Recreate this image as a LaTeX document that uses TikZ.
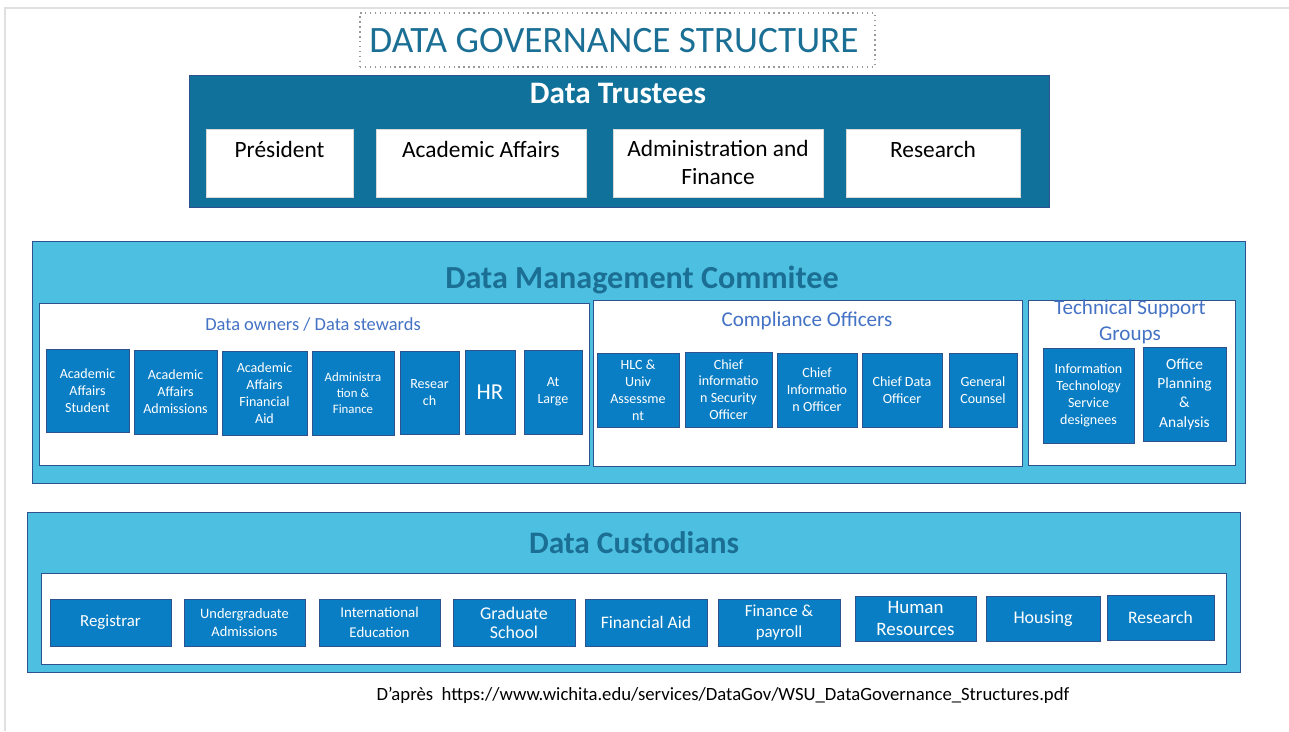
\documentclass[tikz,border=0pt]{standalone}
\usepackage{fontspec}
\setmainfont{Carlito}
\usepackage{xcolor}
\usepackage{tikz}
\usetikzlibrary{positioning, shapes}

\definecolor{trusteeblue}{HTML}{10719A}
\definecolor{layerblue}{HTML}{4DBFE0}
\definecolor{unitblue}{HTML}{0A7EC4}
\definecolor{unitedge}{HTML}{2F528F}
\definecolor{headteal}{HTML}{1B6F94}
\definecolor{labelblue}{HTML}{4472C4}

\begin{document}
\begin{tikzpicture}[
    x=0.02cm, y=-0.02cm,
    layer/.style={rectangle, draw=unitedge, fill=layerblue, inner sep=0pt},
    trustees/.style={rectangle, draw=unitedge, fill=trusteeblue, inner sep=0pt},
    panel/.style={rectangle, draw=unitedge, fill=white, inner sep=0pt},
    seat/.style={rectangle, fill=white, draw=white!85!black, inner sep=0pt, minimum height=1.36cm},
    seattext/.style={anchor=base, align=center, font=\fontsize{13.3}{16}\selectfont},
    unit/.style={rectangle, draw=unitedge, fill=unitblue, text=white, align=center, inner sep=1pt, font=\fontsize{8}{9.6}\selectfont},
    custodian/.style={unit, minimum width=2.42cm, minimum height=0.94cm, font=\fontsize{8.5}{10.5}\selectfont},
    heading/.style={anchor=base, font=\bfseries\fontsize{17.8}{20}\selectfont},
    grouplabel/.style={anchor=base, text=labelblue, align=center, font=\fontsize{12}{14.8}\selectfont}
]
\useasboundingbox (0,0) rectangle (1289,731);

% Slide frame
\draw[black!12, line width=1.2pt] (5,731) |- (1289,8);

% Title
\node[draw=black!40, dotted, thick, minimum width=10.3cm, minimum height=1.08cm] (titlebox) at (617.5,40) {};
\node[anchor=base, text=headteal, font=\fontsize{21.2}{24}\selectfont] (title) at (614,52) {DATA GOVERNANCE STRUCTURE};

% Data trustees
\node[trustees, minimum width=17.2cm, minimum height=2.64cm] (trust) at (619,141) {};
\node[heading, text=white] (trusthead) at (618,103) {Data Trustees};
\node[seat, minimum width=2.94cm] (pres) at (279.5,163) {};
\node[seat, minimum width=4.2cm] (acad) at (481,163) {};
\node[seat, minimum width=4.2cm] (admin) at (718,163) {};
\node[seat, minimum width=3.48cm] (resch) at (933,163) {};
\node[seattext] (prestext) at (279.5,157) {Président};
\node[seattext] (acadtext) at (481,157) {Academic Affairs};
\node[seattext, anchor=north] (admintext) at (718,134) {Administration and\\Finance};
\node[seattext] (reschtext) at (933,157) {Research};

% Data management committee
\node[layer, minimum width=24.26cm, minimum height=4.84cm] (dmc) at (638.5,362) {};
\node[heading, text=headteal, font=\bfseries\fontsize{18.3}{20}\selectfont] (dmchead) at (642,288) {Data Management Commitee};

% Data owners / stewards
\node[panel, minimum width=11cm, minimum height=3.24cm] (owners) at (314,384) {};
\node[grouplabel, font=\fontsize{10.5}{14}\selectfont] (ownerslabel) at (313,330) {Data owners / Data stewards};
\node[unit, minimum width=1.66cm, minimum height=1.66cm] (o1) at (87.5,390.5) {Academic\\Affairs\\Student};
\node[unit, minimum width=1.66cm, minimum height=1.68cm] (o2) at (175.5,392) {Academic\\Affairs\\Admissions};
\node[unit, minimum width=1.7cm, minimum height=1.68cm] (o3) at (264.5,393) {Academic\\Affairs\\Financial\\Aid};
\node[unit, minimum width=1.64cm, minimum height=1.68cm, font=\fontsize{7.3}{9.2}\selectfont] (o4) at (353,393) {Administra\\tion \&\\Finance};
\node[unit, minimum width=1.18cm, minimum height=1.66cm] (o5) at (429.5,392.5) {Resear\\ch};
\node[unit, minimum width=1cm, minimum height=1.68cm, font=\fontsize{13}{15}\selectfont] (o6) at (490,392) {HR};
\node[unit, minimum width=1.16cm, minimum height=1.68cm] (o7) at (553,392) {At\\Large};

% Compliance officers
\node[panel, minimum width=8.58cm, minimum height=3.32cm] (comply) at (807.5,383) {};
\node[grouplabel] (complylabel) at (807,326) {Compliance Officers};
\node[unit, minimum width=1.64cm, minimum height=1.48cm] (c1) at (638,390) {HLC \&\\Univ\\Assessme\\nt};
\node[unit, minimum width=1.74cm, minimum height=1.5cm] (c2) at (728.5,389.5) {Chief\\informatio\\n Security\\Officer};
\node[unit, minimum width=1.6cm, minimum height=1.48cm] (c3) at (817,390) {Chief\\Informatio\\n Officer};
\node[unit, minimum width=1.6cm, minimum height=1.48cm] (c4) at (902,390) {Chief Data\\Officer};
\node[unit, minimum width=1.36cm, minimum height=1.48cm] (c5) at (983,390) {General\\Counsel};

% Technical support groups
\node[panel, minimum width=4.14cm, minimum height=3.3cm] (tech) at (1131.5,382.5) {};
\node[grouplabel, anchor=north] (techlabel) at (1130,294) {Technical Support\\Groups};
\node[unit, minimum width=1.82cm, minimum height=1.9cm] (t1) at (1088.5,395.5) {Information\\Technology\\Service\\designees};
\node[unit, minimum width=1.66cm, minimum height=1.88cm, font=\fontsize{8.8}{11}\selectfont] (t2) at (1184.5,394) {Office\\Planning\\\&\\Analysis};

% Data custodians
\node[layer, minimum width=24.26cm, minimum height=3.2cm] (cust) at (633.5,592) {};
\node[heading, text=headteal] (custhead) at (634,553) {Data Custodians};
\node[panel, minimum width=23.7cm, minimum height=1.82cm] (custrow) at (633.5,618.5) {};
\node[custodian, font=\fontsize{9.6}{11}\selectfont] (k1) at (110.5,622.5) {Registrar};
\node[custodian, font=\fontsize{8.2}{10}\selectfont] (k2) at (244.5,622.5) {Undergraduate\\Admissions};
\node[custodian, font=\fontsize{8.5}{11}\selectfont] (k3) at (379.5,622.5) {International\\Education};
\node[custodian, minimum width=2.44cm, font=\fontsize{10.2}{11}\selectfont] (k4) at (514,622.5) {Graduate\\School};
\node[custodian, minimum width=2.44cm, font=\fontsize{10}{11}\selectfont] (k5) at (646,622.5) {Financial Aid};
\node[custodian, minimum width=2.44cm, font=\fontsize{9.6}{12}\selectfont] (k6) at (779,622.5) {Finance \&\\payroll};
\node[custodian, minimum height=0.9cm, font=\fontsize{10.8}{13}\selectfont] (k7) at (915.5,618.5) {Human\\Resources};
\node[custodian, minimum width=2.28cm, minimum height=0.9cm, font=\fontsize{10.2}{12}\selectfont] (k8) at (1043,618.5) {Housing};
\node[custodian, minimum width=2.14cm, minimum height=0.9cm, font=\fontsize{10}{12}\selectfont] (k9) at (1160.5,617.5) {Research};

% Source
\node[anchor=base, font=\fontsize{10.65}{12}\selectfont] (source) at (723,700) {D’après\ \ https://www.wichita.edu/services/DataGov/WSU\_DataGovernance\_Structures.pdf};

\end{tikzpicture}
\end{document}
